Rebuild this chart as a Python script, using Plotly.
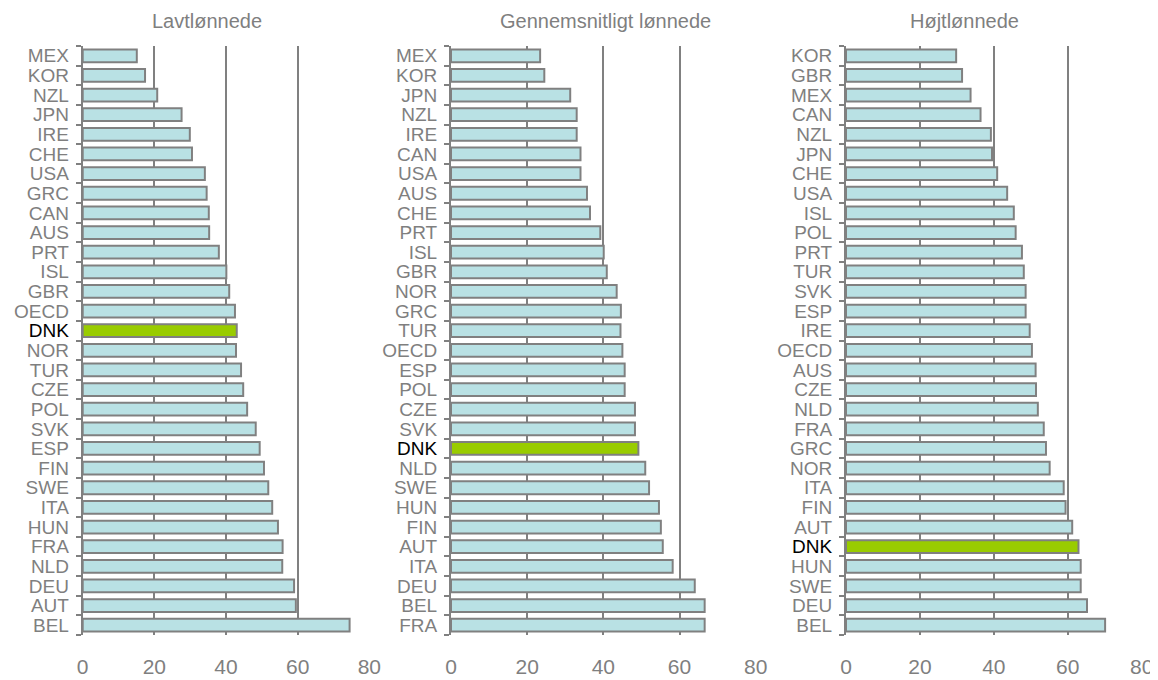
import plotly.graph_objects as go

# ---- data ----
low_countries = ["MEX", "KOR", "NZL", "JPN", "IRE", "CHE", "USA", "GRC", "CAN", "AUS",
                 "PRT", "ISL", "GBR", "OECD", "DNK", "NOR", "TUR", "CZE", "POL", "SVK",
                 "ESP", "FIN", "SWE", "ITA", "HUN", "FRA", "NLD", "DEU", "AUT", "BEL"]
low_values = [15.1, 17.4, 20.8, 27.6, 29.9, 30.5, 34.1, 34.6, 35.2, 35.3,
              38.0, 40.1, 40.9, 42.5, 43.0, 42.8, 44.2, 44.8, 45.9, 48.3,
              49.4, 50.6, 51.8, 52.9, 54.5, 55.8, 55.7, 59.0, 59.5, 74.5]

avg_countries = ["MEX", "KOR", "JPN", "NZL", "IRE", "CAN", "USA", "AUS", "CHE", "PRT",
                 "ISL", "GBR", "NOR", "GRC", "TUR", "OECD", "ESP", "POL", "CZE", "SVK",
                 "DNK", "NLD", "SWE", "HUN", "FIN", "AUT", "ITA", "DEU", "BEL", "FRA"]
avg_values = [23.4, 24.5, 31.3, 33.0, 33.0, 34.0, 34.0, 35.7, 36.5, 39.2,
              40.1, 40.9, 43.5, 44.6, 44.5, 45.0, 45.6, 45.6, 48.3, 48.3,
              49.2, 51.0, 52.0, 54.6, 55.1, 55.6, 58.2, 64.0, 66.6, 66.6]

high_countries = ["KOR", "GBR", "MEX", "CAN", "NZL", "JPN", "CHE", "USA", "ISL", "POL",
                  "PRT", "TUR", "SVK", "ESP", "IRE", "OECD", "AUS", "CZE", "NLD", "FRA",
                  "GRC", "NOR", "ITA", "FIN", "AUT", "DNK", "HUN", "SWE", "DEU", "BEL"]
high_values = [29.8, 31.4, 33.7, 36.4, 39.2, 39.5, 40.9, 43.6, 45.4, 45.9,
               47.6, 48.1, 48.6, 48.6, 49.7, 50.3, 51.3, 51.4, 51.9, 53.5,
               54.1, 55.1, 58.9, 59.4, 61.2, 62.9, 63.5, 63.5, 65.2, 70.1]

titles = ["Lavtlønnede", "Gennemsnitligt lønnede", "Højtlønnede"]
x_ticks = [0, 20, 40, 60, 80]
highlight = "DNK"

# ---- style ----
OFF = 8  # page body margin offset
W, H = 1158 - OFF, 680 - OFF
BAR_FILL = "#b9e1e4"
DNK_FILL = "#99cc00"
EDGE = "#808080"
GREY = "#7f7f7f"
FONT = "Liberation Sans, Arial, sans-serif"

panels = [(low_countries, low_values), (avg_countries, avg_values), (high_countries, high_values)]
domains = [(82.7 - OFF, 369.3 - OFF), (451.0 - OFF, 755.7 - OFF), (846.0 - OFF, 1141.7 - OFF)]
title_x = [207 - OFF, 605 - OFF, 964 - OFF]

fig = go.Figure()
layout = dict(
    width=W, height=H,
    margin=dict(l=0, r=0, t=46 - OFF, b=45, autoexpand=False),
    paper_bgcolor="white", plot_bgcolor="white",
    showlegend=False,
    bargap=0.35,
    font=dict(family=FONT, color=GREY),
    annotations=[],
)

for i, ((cats, vals), (x0, x1), title, tx) in enumerate(zip(panels, domains, titles, title_x)):
    n = "" if i == 0 else str(i + 1)
    colors = [DNK_FILL if c == highlight else BAR_FILL for c in cats]
    fig.add_trace(go.Bar(
        x=vals, y=cats, orientation="h",
        marker=dict(color=colors, line=dict(color=EDGE, width=2)),
        xaxis="x" + n, yaxis="y" + n, hoverinfo="x+y",
    ))
    ticktext = ['<span style="color:black">%s</span>' % c if c == highlight else c for c in cats]
    layout["xaxis" + n] = dict(
        domain=[x0 / W, x1 / W], range=[0, 80], tickvals=x_ticks,
        showgrid=True, gridcolor=EDGE, gridwidth=2, zeroline=False,
        showline=False, ticks="", anchor="y" + n,
        tickfont=dict(size=21, color=GREY, family=FONT),
        ticklabelstandoff=17, automargin=False, fixedrange=True,
    )
    layout["yaxis" + n] = dict(
        domain=[0, 1], type="category", categoryorder="array", categoryarray=cats,
        tickvals=cats, ticktext=ticktext,
        autorange="reversed", anchor="x" + n,
        showline=True, linecolor=EDGE, linewidth=2,
        ticks="outside", tickson="boundaries", ticklen=5, tickcolor=EDGE, tickwidth=2,
        showgrid=False, zeroline=False,
        tickfont=dict(size=19, color=GREY, family=FONT),
        ticklabelstandoff=8, automargin=False, fixedrange=True,
    )
    layout["annotations"].append(dict(
        text=title, xref="paper", yref="paper",
        x=tx / W, xanchor="center", y=1, yshift=25, yanchor="middle",
        showarrow=False, font=dict(size=20, color=GREY, family=FONT),
    ))

fig.update_layout(**layout)
fig.write_html("out.html")
